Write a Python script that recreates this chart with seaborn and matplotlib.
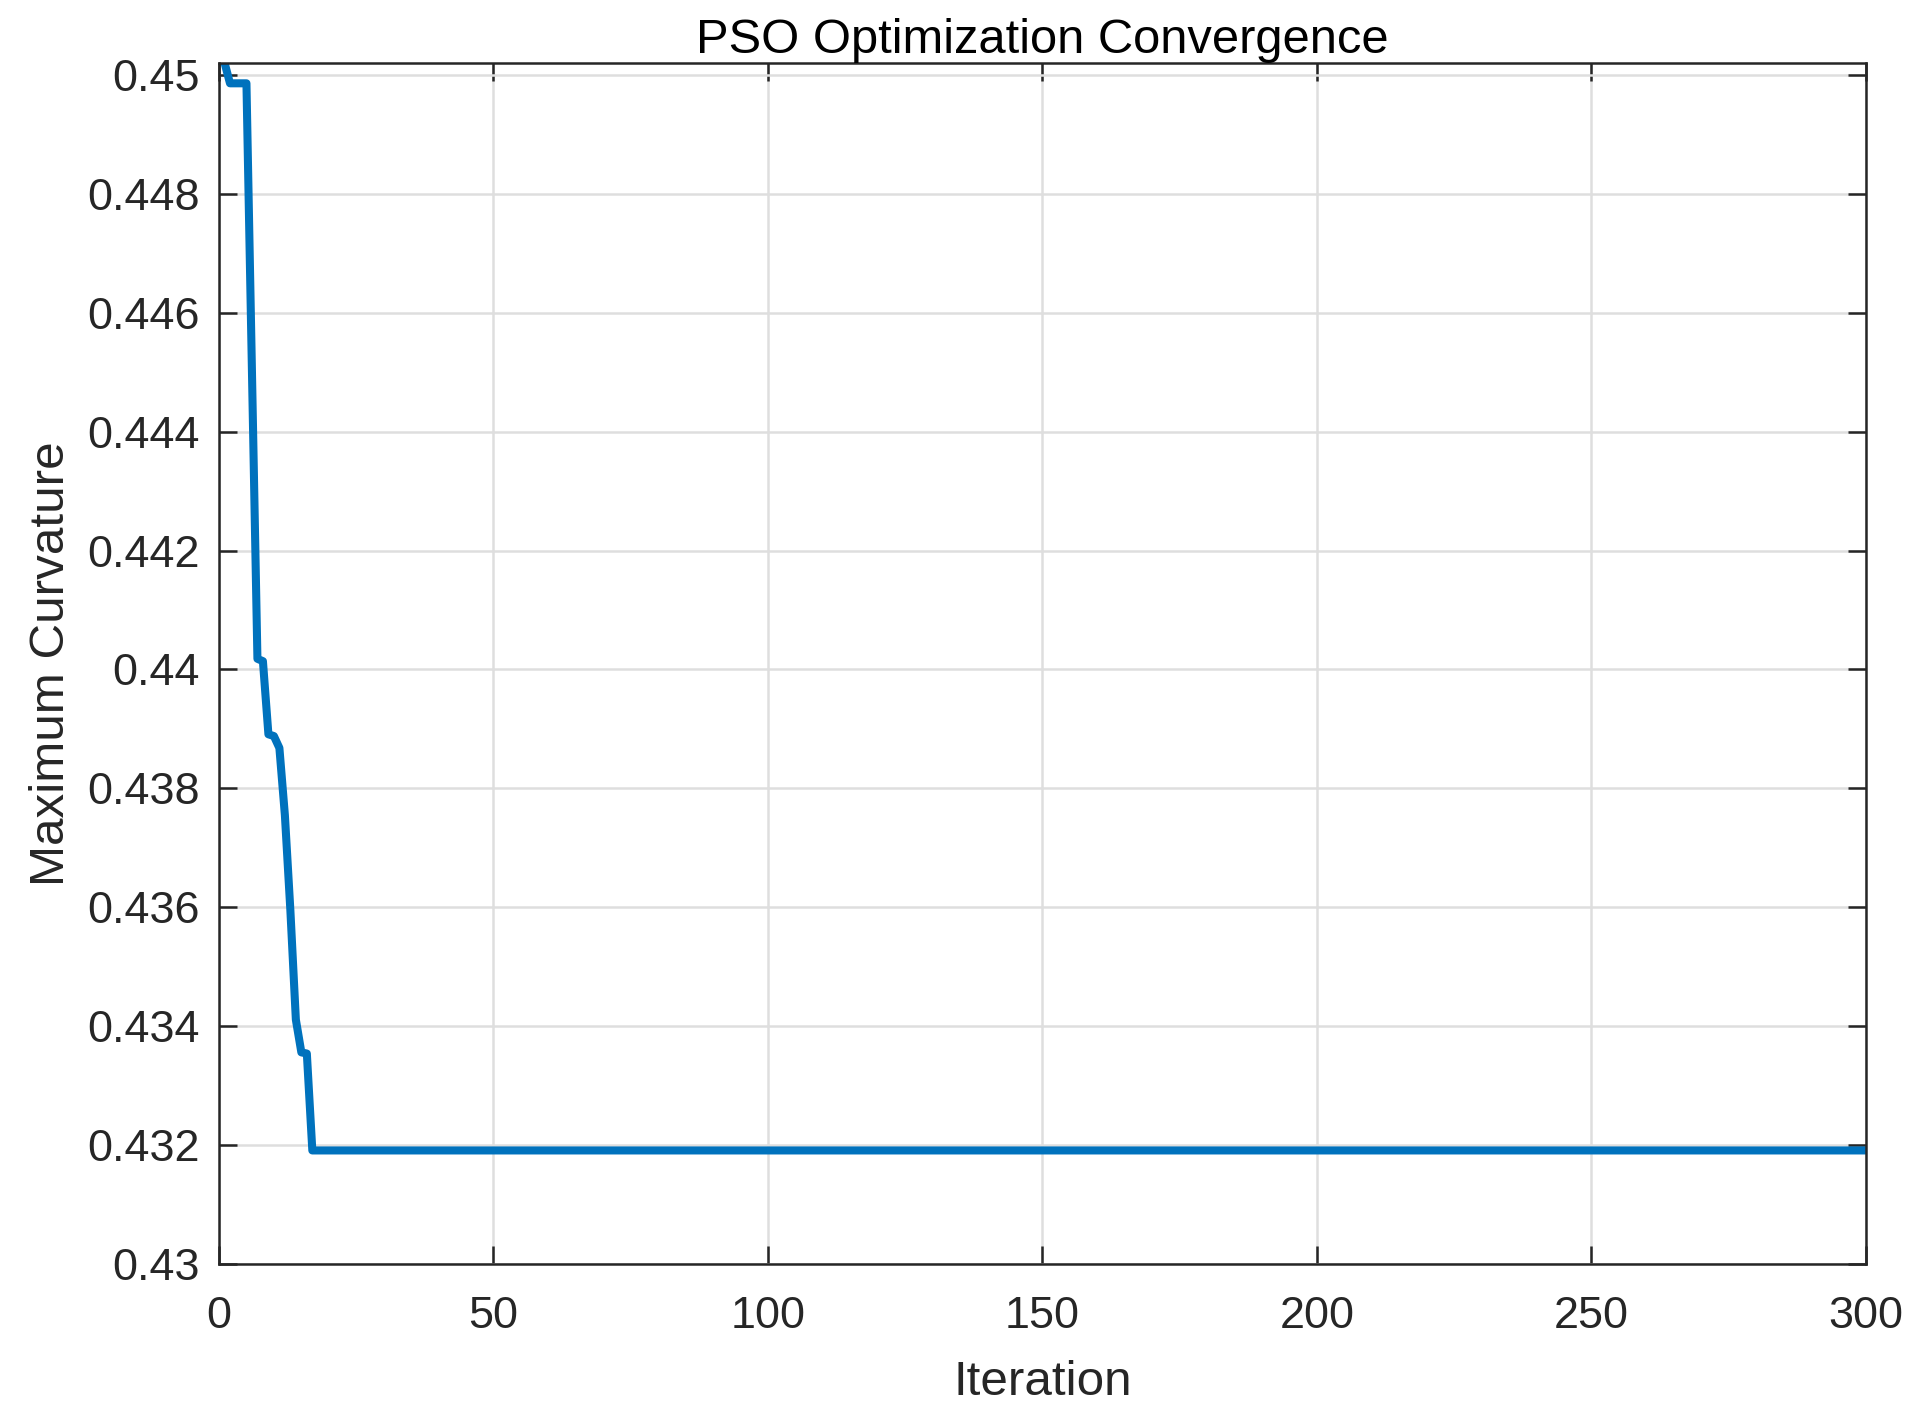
import numpy as np
import pandas as pd
import matplotlib
matplotlib.use("Agg")
import matplotlib.pyplot as plt
from matplotlib.ticker import FuncFormatter
import seaborn as sns

# ---- data ----
early_values = [0.45021, 0.44986, 0.44986, 0.44986, 0.44986, 0.44500, 0.44018,
                0.44014, 0.43891, 0.43888, 0.43868, 0.43755, 0.43595, 0.43411,
                0.43356, 0.43354, 0.43191]
plateau_value = 0.43191
n_iter = 300
values = early_values + [plateau_value] * (n_iter - len(early_values))
iterations = list(range(1, n_iter + 1))

title = "PSO Optimization Convergence"
xlabel = "Iteration"
ylabel = "Maximum Curvature"
x_ticks = [0, 50, 100, 150, 200, 250, 300]
y_ticks = [0.43, 0.432, 0.434, 0.436, 0.438, 0.44, 0.442, 0.444, 0.446, 0.448, 0.45]

df = pd.DataFrame({"Iteration": iterations, "Value": values})

sns.set_theme(style="white")
plt.rcParams["font.family"] = ["Liberation Sans", "DejaVu Sans"]

fig = plt.figure(figsize=(1915 / 200, 1417 / 200), dpi=200)
ax = fig.add_axes([219 / 1915, 1 - 1264 / 1417, (1866 - 219) / 1915, (1264 - 62.5) / 1417])

sns.lineplot(data=df, x="Iteration", y="Value", ax=ax, color="#0072BD",
             linewidth=2.9)

ax.set_xlim(0, 300)
ax.set_ylim(0.43, 0.45021)
ax.set_xticks(x_ticks)
ax.set_yticks(y_ticks)
ax.yaxis.set_major_formatter(FuncFormatter(lambda v, p: f"{v:g}"))
ax.xaxis.set_major_formatter(FuncFormatter(lambda v, p: f"{v:g}"))

ax.grid(True, color="#dedede", linewidth=0.9)
ax.set_axisbelow(True)
for s in ax.spines.values():
    s.set_color("#262626")
    s.set_linewidth(0.9)
    s.set_visible(True)

ax.tick_params(axis="both", which="major", direction="in", length=6.4, width=0.9,
               color="#262626", labelcolor="#262626", labelsize=16.2,
               top=True, right=True, bottom=True, left=True)
ax.tick_params(axis="x", pad=11.7)
ax.tick_params(axis="y", pad=6.8)

ax.set_title(title, fontsize=17.6, color="black", pad=3.6)
ax.set_xlabel(xlabel, fontsize=17.8, color="#262626", labelpad=8)
ax.set_ylabel(ylabel, fontsize=17.8, color="#262626", labelpad=5)

fig.savefig("out.png", dpi=200)
